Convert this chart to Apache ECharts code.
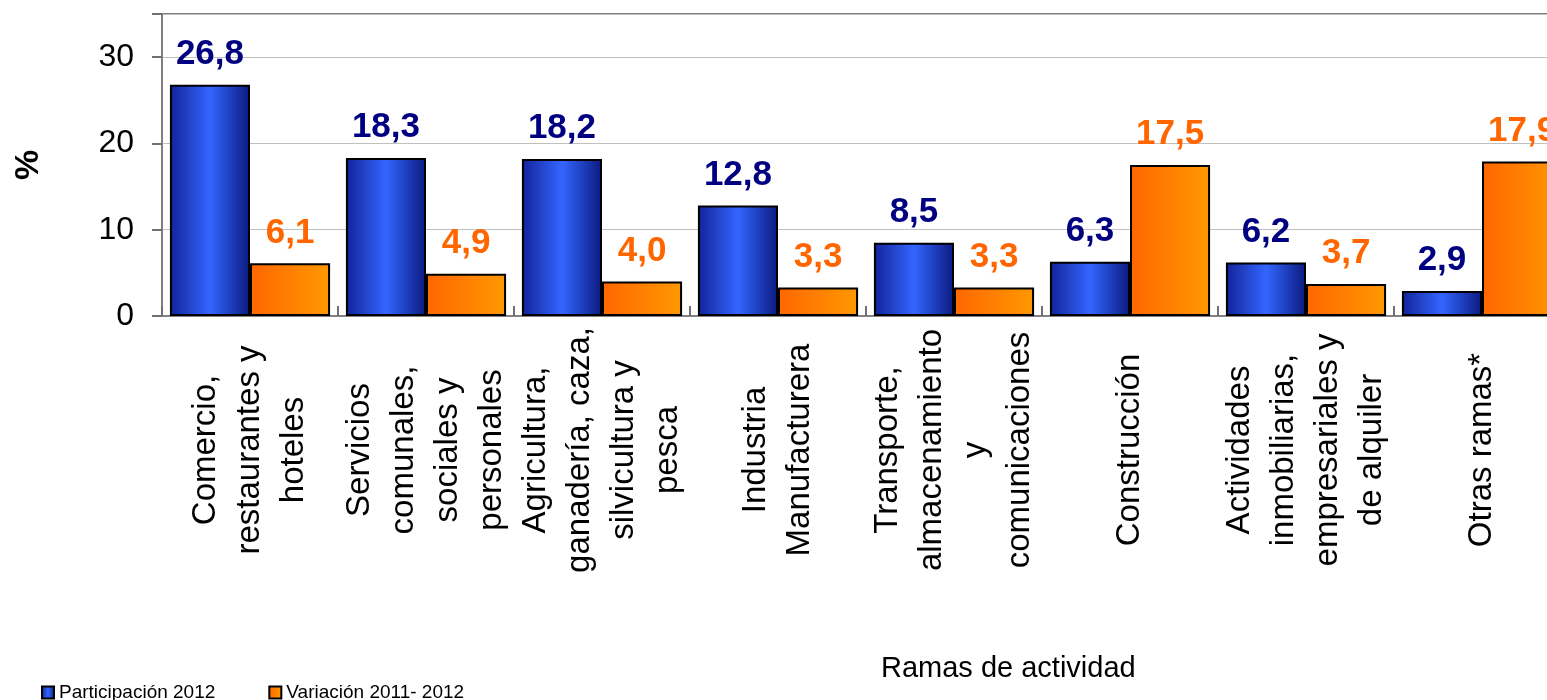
<!DOCTYPE html>
<html>
<head>
<meta charset="utf-8">
<title>Ramas de actividad</title>
<script src="https://cdn.jsdelivr.net/npm/echarts@6/dist/echarts.min.js"></script>
<style>
  html, body { margin: 0; padding: 0; background: #fff; overflow: hidden; }
  body { width: 1547px; height: 700px; }
  /* el gráfico original está cortado por la derecha */
  #chart { width: 1600px; height: 700px; }
</style>
</head>
<body>
<div id="chart"></div>
<script>
// datos
const categorias = [
  'Comercio,\nrestaurantes y\nhoteles',
  'Servicios\ncomunales,\nsociales y\npersonales',
  'Agricultura,\nganadería, caza,\nsilvicultura y\npesca',
  'Industria\nManufacturera',
  'Transporte,\nalmacenamiento\ny\ncomunicaciones',
  'Construcción',
  'Actividades\ninmobiliarias,\nempresariales y\nde alquiler',
  'Otras ramas*',
]
const participacion2012 = [26.8, 18.3, 18.2, 12.8, 8.5, 6.3, 6.2, 2.9]
const variacion20112012 = [6.1, 4.9, 4.0, 3.3, 3.3, 17.5, 3.7, 17.9]
const ticksY = [0, 10, 20, 30]

const fuente = 'Arial, "Liberation Sans", sans-serif'
const fmt = (p) => p.value.toFixed(1).replace('.', ',')

const chart = echarts.init(document.getElementById('chart'))
chart.setOption({
  animation: false,
  textStyle: { fontFamily: fuente },
  title: {
    text: 'Ramas de actividad',
    left: 876,
    top: 649,
    textStyle: { fontSize: 29, fontWeight: 'normal', color: '#000', fontFamily: fuente },
  },
  legend: {
    left: 36,
    top: 678,
    itemWidth: 12,
    itemHeight: 12,
    itemGap: 53,
    itemTextGap: 6,
    icon: 'rect',
    textStyle: { fontSize: 19, color: '#000', fontFamily: fuente },
    data: ['Participación 2012', 'Variación 2011- 2012'],
  },
  grid: {
    left: 162,
    top: 14,
    width: 1408,
    height: 302,
    show: true,
    borderColor: '#808080',
    borderWidth: 2,
    containLabel: false,
  },
  xAxis: {
    type: 'category',
    data: categorias,
    axisLine: { lineStyle: { color: '#808080', width: 2 } },
    axisTick: { show: true, inside: true, length: 10, lineStyle: { color: '#707070', width: 2 } },
    axisLabel: {
      rotate: 90,
      align: 'center',
      verticalAlign: 'middle',
      margin: 134,
      interval: 0,
      fontSize: 33,
      lineHeight: 44,
      color: '#000',
      fontFamily: fuente,
    },
  },
  yAxis: {
    type: 'value',
    min: 0,
    max: 35,
    interval: 10,
    name: '%',
    nameLocation: 'middle',
    nameRotate: 90,
    nameGap: 116,
    nameTextStyle: { fontSize: 34, fontWeight: 'bold', color: '#000', fontFamily: fuente },
    axisLine: { show: true, lineStyle: { color: '#808080', width: 2 } },
    axisTick: { show: true, length: 10, lineStyle: { color: '#707070', width: 2 } },
    axisLabel: {
      margin: 28,
      fontSize: 32,
      color: '#000',
      fontFamily: fuente,
      formatter: (v) => (ticksY.includes(v) ? String(v) : ''),
    },
    splitLine: { lineStyle: { color: '#c0c0c0', width: 1 } },
  },
  series: [
    {
      name: 'Participación 2012',
      type: 'bar',
      data: participacion2012,
      barGap: '0%',
      barCategoryGap: '9%',
      itemStyle: {
        color: {
          type: 'linear',
          x: 0, y: 0, x2: 1, y2: 0,
          colorStops: [
            { offset: 0, color: '#13239a' },
            { offset: 0.5, color: '#3366ff' },
            { offset: 1, color: '#0c1a80' },
          ],
        },
        borderColor: '#000',
        borderWidth: 2,
      },
      label: {
        show: true,
        position: 'top',
        distance: 13,
        formatter: fmt,
        fontSize: 35,
        fontWeight: 'bold',
        color: '#000080',
        fontFamily: fuente,
      },
    },
    {
      name: 'Variación 2011- 2012',
      type: 'bar',
      data: variacion20112012,
      barGap: '0%',
      barCategoryGap: '9%',
      itemStyle: {
        color: {
          type: 'linear',
          x: 0, y: 0, x2: 1, y2: 0,
          colorStops: [
            { offset: 0, color: '#ff6600' },
            { offset: 1, color: '#ff9900' },
          ],
        },
        borderColor: '#000',
        borderWidth: 2,
      },
      label: {
        show: true,
        position: 'top',
        distance: 13,
        formatter: fmt,
        fontSize: 35,
        fontWeight: 'bold',
        color: '#ff6600',
        fontFamily: fuente,
      },
    },
  ],
})
</script>
</body>
</html>
